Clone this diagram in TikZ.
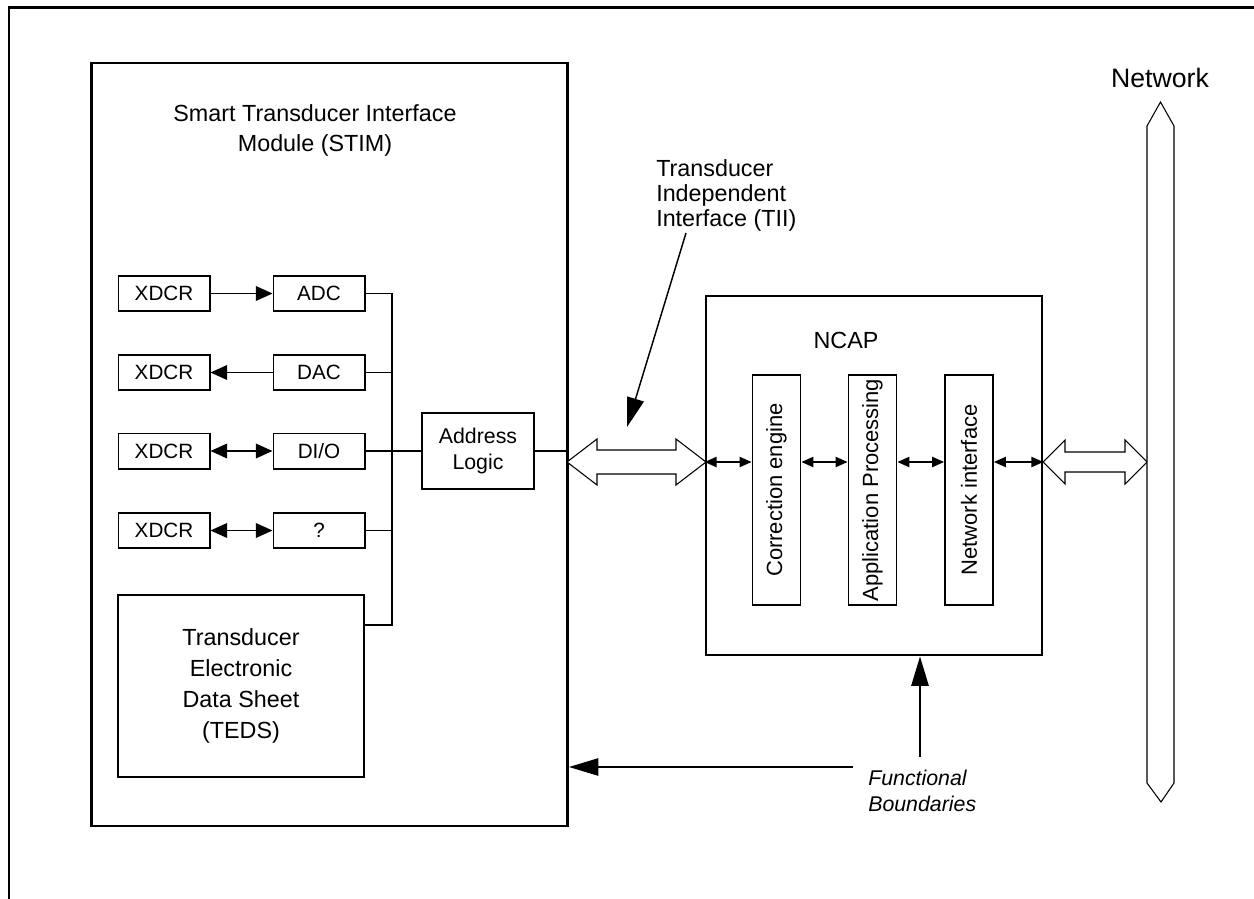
\documentclass[tikz,border=0pt]{standalone}
\usepackage{fontspec}
\setmainfont{Liberation Sans}
\usetikzlibrary{arrows.meta}

\tikzset{
  unitbox/.style={draw, line width=1.25pt, inner sep=0pt, minimum width=68.5pt, minimum height=26.5pt, font=\fontsize{15.5}{18}\selectfont},
  framebox/.style={draw, line width=2.2pt, inner sep=0pt},
  columnbox/.style={draw, line width=1.25pt, inner sep=0pt, minimum width=36pt, minimum height=172.5pt},
  sig/.style={line width=1.1pt, -{Triangle[length=12.5pt,width=11pt]}},
  sigboth/.style={line width=1.1pt, {Triangle[length=12.5pt,width=11pt]}-{Triangle[length=12.5pt,width=11pt]}},
  hop/.style={line width=1.6pt, {Triangle[length=9pt,width=7.5pt]}-{Triangle[length=9pt,width=7.5pt]}},
  pointer/.style={line width=1.1pt, -{Triangle[length=22pt,width=13pt]}},
  bigtext/.style={font=\fontsize{17.5}{22.5}\selectfont, align=center},
  sidetext/.style={font=\fontsize{16.5}{20}\selectfont, rotate=90},
  openarrow/.style={draw, line width=0.8pt, fill=white, line join=miter}
}

\begin{document}
\begin{tikzpicture}[x=0.75pt,y=0.75pt,yscale=-1,xscale=1]
\useasboundingbox (0,0) rectangle (1254,899);

%Outer frame
\draw [line width=2.2pt] (9,899) -- (9,7.5) -- (1254,7.5) ;

%STIM module
\node [framebox, minimum width=357pt, minimum height=572.25pt] (stim) at (329.5,444.5) {};
% Text Node
\node [bigtext] (stimlbl) at (315,130) {Smart Transducer Interface\\Module (STIM)};

%Transducers and converters
\node [unitbox] (x1) at (164,293.5) {XDCR};
\node [unitbox] (x2) at (164,372.5) {XDCR};
\node [unitbox] (x3) at (164,451) {XDCR};
\node [unitbox] (x4) at (164,530.5) {XDCR};
\node [unitbox] (adc) at (319,293.5) {ADC};
\node [unitbox] (dac) at (319,372.5) {DAC};
\node [unitbox] (dio) at (319,451) {DI/O};
\node [unitbox] (unk) at (319,530.5) {?};

\draw [sig] (x1) -- (adc) ;
\draw [sig] (dac) -- (x2) ;
\draw [sigboth] (x3) -- (dio) ;
\draw [sigboth] (x4) -- (unk) ;

%TEDS
\node [draw, line width=1.25pt, minimum width=184.5pt, minimum height=136.5pt, font=\fontsize{17.5}{23.25}\selectfont, align=center] (teds) at (241,686) {Transducer\\Electronic\\Data Sheet\\(TEDS)};

%Address logic
\node [draw, line width=1.25pt, minimum width=84pt, minimum height=57pt, font=\fontsize{16}{19}\selectfont, align=center] (addr) at (478,451) {Address\\Logic};

%Internal bus
\coordinate (busbot) at (392,625);
\draw [line width=1.1pt] (adc.east) -| (busbot) -- (busbot -| teds.east) ;
\draw [line width=1.1pt] (dac.east) -- (dac.east -| busbot) ;
\draw [line width=1.1pt] (unk.east) -- (unk.east -| busbot) ;
\draw [line width=1.1pt] (dio.east) -- (addr.west) ;
\draw [line width=1.1pt] (addr.east) -- (addr.east -| stim.east) ;

%NCAP
\node [framebox, minimum width=252pt, minimum height=269.25pt] (ncap) at (874,475.5) {};
% Text Node
\node [bigtext] (ncaplbl) at (846,340) {NCAP};

\node [columnbox] (cor) at (776.5,490) {};
\node [columnbox] (app) at (872.5,490) {};
\node [columnbox] (nif) at (969,490) {};
\node [sidetext] (corlbl) at (cor) {Correction engine};
\node [sidetext] (applbl) at (app) {Application Processing};
\node [sidetext] (niflbl) at (nif) {Network interface};

\coordinate (lane) at (0,462);
\draw [hop] (ncap.west |- lane) -- (cor.west |- lane) ;
\draw [hop] (cor.east |- lane) -- (app.west |- lane) ;
\draw [hop] (app.east |- lane) -- (nif.west |- lane) ;
\draw [hop] (nif.east |- lane) -- (ncap.east |- lane) ;

%TII double arrow
\path [openarrow] (567,462) -- (597,439) -- (597,450) -- (676,450) -- (676,439) -- (706,462) -- (676,485) -- (676,474) -- (597,474) -- (597,485) -- cycle ;

%Network side double arrow
\path [openarrow] (1043,462) -- (1065,440) -- (1065,452) -- (1125,452) -- (1125,440) -- (1147,462) -- (1125,484) -- (1125,472) -- (1065,472) -- (1065,484) -- cycle ;

%Network bus
\path [openarrow] (1147,126) -- (1160.5,102) -- (1174,126) -- (1174,783) -- (1161,802) -- (1147,783) -- cycle ;
% Text Node
\node [bigtext, font=\fontsize{20}{24}\selectfont] (netlbl) at (1160,78) {Network};

%TII label and pointer
\node [font=\fontsize{17.5}{18.75}\selectfont, align=left, anchor=north west, inner sep=0pt] (tiilbl) at (656,159) {Transducer\\Independent\\Interface (TII)};
\coordinate (tiitip) at (627,427);
\draw [pointer] (686,233) -- (tiitip) ;

%Functional boundaries
\node [font=\fontsize{16}{20}\itshape, align=left, anchor=west, inner sep=0pt] (fb) at (868,791) {Functional\\Boundaries};
\coordinate (fbleft) at (853,767);
\coordinate (fbup) at (920,757);
\draw [pointer] (fbleft) -- (fbleft -| stim.east) ;
\draw [pointer] (fbup) -- (fbup |- ncap.south) ;

\end{tikzpicture}
\end{document}
